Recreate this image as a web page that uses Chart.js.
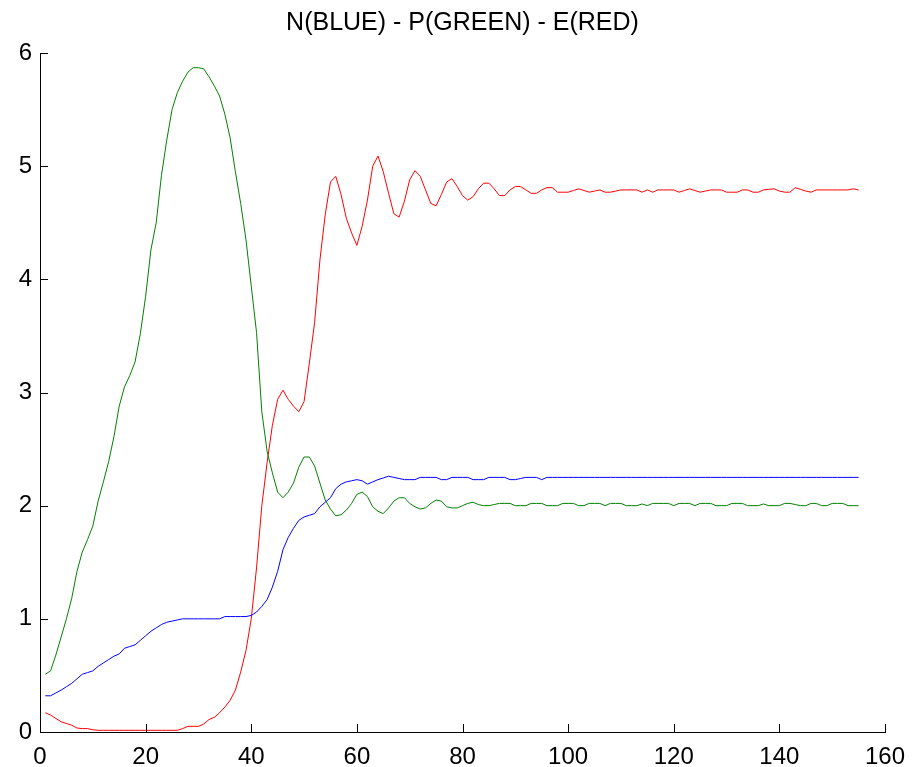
<!DOCTYPE html>
<html>
<head>
<meta charset="utf-8">
<script src="https://cdn.jsdelivr.net/npm/chart.js@4.4.1/dist/chart.umd.min.js"></script>
<style>
  html, body { margin: 0; padding: 0; background: #fff; }
  #wrap { width: 913px; height: 767px; }
</style>
</head>
<body>
<div id="wrap"><canvas id="myChart"></canvas></div>
<script>
// time steps 1..155
const steps = Array.from({ length: 155 }, (_, i) => i + 1);

// N - blue
const nBlue = [
  0.32, 0.32, 0.345, 0.37, 0.40, 0.43, 0.47, 0.51, 0.525, 0.54,
  0.58, 0.61, 0.64, 0.67, 0.69, 0.74, 0.755, 0.77, 0.81, 0.85,
  0.89, 0.92, 0.95, 0.97, 0.98, 0.99, 1.00, 1.00, 1.00, 1.00,
  1.00, 1.00, 1.00, 1.00, 1.02, 1.02, 1.02, 1.02, 1.02, 1.03,
  1.06, 1.11, 1.17, 1.28, 1.42, 1.61, 1.72, 1.80, 1.87, 1.90,
  1.915, 1.93, 1.99, 2.03, 2.07, 2.15, 2.19, 2.21, 2.22, 2.23,
  2.22, 2.19, 2.21, 2.23, 2.245, 2.26, 2.25, 2.24, 2.23, 2.23,
  2.23, 2.25, 2.25, 2.25, 2.25, 2.23, 2.23, 2.25, 2.25, 2.25,
  2.25, 2.23, 2.23, 2.23, 2.25, 2.25, 2.25, 2.25, 2.23, 2.23,
  2.24, 2.25, 2.25, 2.25, 2.23, 2.25, 2.25, 2.25, 2.25, 2.25,
  2.25, 2.25, 2.25, 2.25, 2.25, 2.25, 2.25, 2.25, 2.25, 2.25,
  2.25, 2.25, 2.25, 2.25, 2.25, 2.25, 2.25, 2.25, 2.25, 2.25,
  2.25, 2.25, 2.25, 2.25, 2.25, 2.25, 2.25, 2.25, 2.25, 2.25,
  2.25, 2.25, 2.25, 2.25, 2.25, 2.25, 2.25, 2.25, 2.25, 2.25,
  2.25, 2.25, 2.25, 2.25, 2.25, 2.25, 2.25, 2.25, 2.25, 2.25,
  2.25, 2.25, 2.25, 2.25, 2.25
];

// P - green
const pGreen = [
  0.51, 0.54, 0.68, 0.84, 1.00, 1.18, 1.42, 1.59, 1.70, 1.82,
  2.04, 2.21, 2.39, 2.61, 2.88, 3.05, 3.15, 3.27, 3.52, 3.85,
  4.26, 4.50, 4.92, 5.23, 5.50, 5.65, 5.75, 5.83, 5.87, 5.87,
  5.86, 5.79, 5.71, 5.62, 5.46, 5.25, 4.95, 4.67, 4.35, 3.94,
  3.53, 2.83, 2.48, 2.29, 2.12, 2.07, 2.12, 2.20, 2.34, 2.43,
  2.43, 2.35, 2.20, 2.05, 1.97, 1.91, 1.92, 1.96, 2.02, 2.10,
  2.12, 2.08, 1.99, 1.95, 1.93, 1.98, 2.04, 2.07, 2.07, 2.02,
  1.99, 1.97, 1.98, 2.02, 2.05, 2.04, 1.99, 1.98, 1.98, 2.00,
  2.02, 2.03, 2.01, 2.00, 2.00, 2.01, 2.02, 2.02, 2.02, 2.00,
  2.00, 2.00, 2.02, 2.02, 2.02, 2.00, 2.00, 2.00, 2.02, 2.02,
  2.02, 2.00, 2.00, 2.02, 2.02, 2.02, 2.00, 2.02, 2.02, 2.02,
  2.00, 2.00, 2.00, 2.015, 2.00, 2.02, 2.02, 2.02, 2.02, 2.00,
  2.02, 2.02, 2.02, 2.00, 2.02, 2.02, 2.02, 2.00, 2.00, 2.00,
  2.02, 2.02, 2.02, 2.00, 2.00, 2.00, 2.015, 2.00, 2.00, 2.00,
  2.02, 2.02, 2.01, 2.00, 2.00, 2.02, 2.02, 2.00, 2.00, 2.02,
  2.02, 2.02, 2.00, 2.00, 2.00
];

// E - red
const eRed = [
  0.17, 0.15, 0.12, 0.09, 0.075, 0.06, 0.035, 0.03, 0.03, 0.02,
  0.015, 0.015, 0.015, 0.015, 0.015, 0.015, 0.015, 0.015, 0.015, 0.015,
  0.015, 0.015, 0.015, 0.015, 0.015, 0.015, 0.03, 0.05, 0.05, 0.05,
  0.07, 0.11, 0.13, 0.17, 0.22, 0.28, 0.37, 0.53, 0.72, 1.00,
  1.45, 2.00, 2.38, 2.71, 2.94, 3.02, 2.94, 2.88, 2.83, 2.92,
  3.26, 3.62, 4.17, 4.57, 4.86, 4.91, 4.75, 4.54, 4.41, 4.30,
  4.47, 4.70, 5.00, 5.09, 4.95, 4.76, 4.58, 4.55, 4.69, 4.88,
  4.96, 4.91, 4.79, 4.67, 4.65, 4.75, 4.86, 4.89, 4.82, 4.74,
  4.70, 4.73, 4.80, 4.85, 4.85, 4.80, 4.74, 4.74, 4.79, 4.82,
  4.82, 4.79, 4.76, 4.76, 4.79, 4.81, 4.81, 4.77, 4.77, 4.77,
  4.785, 4.80, 4.785, 4.77, 4.78, 4.79, 4.77, 4.77, 4.78, 4.79,
  4.79, 4.79, 4.79, 4.77, 4.79, 4.77, 4.79, 4.79, 4.79, 4.79,
  4.77, 4.785, 4.80, 4.785, 4.77, 4.78, 4.79, 4.79, 4.79, 4.77,
  4.77, 4.77, 4.79, 4.79, 4.77, 4.77, 4.79, 4.795, 4.80, 4.78,
  4.77, 4.77, 4.81, 4.795, 4.78, 4.77, 4.79, 4.79, 4.79, 4.79,
  4.79, 4.79, 4.79, 4.80, 4.79
];

const xTicks = [0, 20, 40, 60, 80, 100, 120, 140, 160];
const yTicks = [0, 1, 2, 3, 4, 5, 6];

const pts = (vals) => vals.map((v, i) => ({ x: steps[i], y: v }));

// matlab style ticks pointing into the plot
const innerTicks = {
  id: 'innerTicks',
  afterDraw(chart) {
    const { ctx, chartArea, scales } = chart;
    ctx.save();
    ctx.strokeStyle = '#000';
    ctx.lineWidth = 1;
    ctx.beginPath();
    xTicks.forEach(v => {
      const px = Math.round(scales.x.getPixelForValue(v)) + 0.5;
      ctx.moveTo(px, chartArea.bottom);
      ctx.lineTo(px, chartArea.bottom - 8);
    });
    yTicks.forEach(v => {
      const py = Math.round(scales.y.getPixelForValue(v)) + 0.5;
      ctx.moveTo(chartArea.left, py);
      ctx.lineTo(chartArea.left + 8, py);
    });
    ctx.stroke();
    ctx.restore();
  }
};

const tickFont = { family: '"Liberation Sans", Arial, sans-serif', size: 24 };

const ctx = document.getElementById('myChart').getContext('2d');

new Chart(ctx, {
  type: 'line',
  data: {
    datasets: [
      { label: 'N', data: pts(nBlue), borderColor: '#0000ff' },
      { label: 'P', data: pts(pGreen), borderColor: '#008000' },
      { label: 'E', data: pts(eRed), borderColor: '#ff0000' }
    ]
  },
  options: {
    responsive: true,
    maintainAspectRatio: false,
    animation: false,
    layout: { padding: { left: 0, right: 28, top: 0, bottom: 0 } },
    elements: {
      line: { borderWidth: 1, tension: 0, fill: false },
      point: { radius: 0 }
    },
    scales: {
      x: {
        type: 'linear',
        min: 0,
        max: 160,
        afterFit: (s) => { s.height = 35; s.paddingLeft = 0; s.paddingRight = 0; },
        afterBuildTicks: (s) => { s.ticks = xTicks.map(v => ({ value: v })); },
        grid: { display: false, drawTicks: false },
        border: { display: true, color: '#000', width: 1 },
        ticks: { color: '#000', font: tickFont, padding: 11, maxRotation: 0 }
      },
      y: {
        min: 0,
        max: 6,
        afterFit: (s) => { s.width = 40; s.paddingTop = 0; s.paddingBottom = 0; },
        afterBuildTicks: (s) => { s.ticks = yTicks.map(v => ({ value: v })); },
        grid: { display: false, drawTicks: false },
        border: { display: true, color: '#000', width: 1 },
        ticks: { color: '#000', font: tickFont, padding: 8 }
      }
    },
    plugins: {
      legend: { display: false },
      tooltip: { enabled: false },
      title: {
        display: true,
        fullSize: false,
        text: 'N(BLUE) - P(GREEN) - E(RED)',
        color: '#000',
        font: { family: '"Liberation Sans", Arial, sans-serif', size: 25, weight: 'normal', lineHeight: 1.2 },
        padding: { top: 8, bottom: 15 }
      }
    }
  },
  plugins: [innerTicks]
});
</script>
</body>
</html>
